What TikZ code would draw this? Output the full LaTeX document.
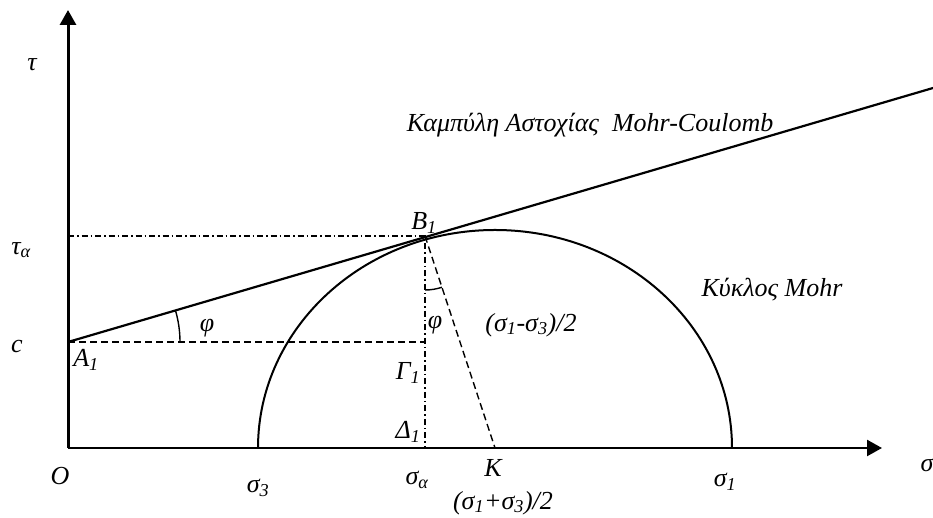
\documentclass[tikz,border=0pt]{standalone}
\usepackage{fontspec}
\setmainfont{Liberation Serif}
\usetikzlibrary{arrows.meta}
\newcommand{\ssub}[2]{#1\textsubscript{#2}}
\tikzset{
  axis/.style={line width=3pt, -{Triangle[length=15pt,width=16pt]}},
  dashdot/.style={line width=1.2pt, dash pattern=on 6pt off 3pt on 1.5pt off 3pt},
  dashline/.style={line width=1.4pt, dash pattern=on 7pt off 4pt},
  lbl/.style={font=\fontsize{26}{30}\selectfont\itshape, inner sep=0pt}
}
\begin{document}
\begin{tikzpicture}[x=1pt, y=1pt]
    \useasboundingbox (0,0) rectangle (933,518);
    \coordinate (O) at (68,70);
    \coordinate (ytop) at (68,508);
    \coordinate (xend) at (882,70);
    \coordinate (A1) at (68,176);
    \coordinate (B1) at (425,282);
    \coordinate (G1) at (425,176);
    \coordinate (D1) at (425,70);
    \coordinate (K) at (495,70);
    \coordinate (lineend) at (933,430);
    \coordinate (ta) at (68,282);

    % axes
    \draw[axis] (O) -- (ytop);
    \draw[axis, line width=2.4pt] (O) -- (xend);

    % Mohr circle and failure line
    \draw[line width=2pt] (258,70) arc[start angle=180, end angle=0, x radius=237, y radius=218];
    \draw[line width=2.2pt] (A1) -- (lineend);

    \draw[dashdot] (ta) -- (B1) -- (D1);
    \draw[dashline] (A1) -- (G1);
    \draw[dashline] (B1) -- (K);

    % angles
    \draw[line width=1.4pt] ([shift={(0:112)}]A1) arc[start angle=0, end angle=16.4, radius=112];
    \draw[line width=1.4pt] ([shift={(270:54)}]B1) arc[start angle=270, end angle=288.3, radius=54];

    \node[lbl] (tau) at (32,453) {τ};
    \node[lbl] (taua) at (21,268) {\ssub{τ}{α}};
    \node[lbl] (cc) at (17,171) {c};
    \node[lbl] (a1) at (86,158) {\ssub{A}{1}};
    \node[lbl] (phi1) at (207,190) {φ};
    \node[lbl] (oo) at (60,42) {O};
    \node[lbl] (s3) at (258,30) {\ssub{σ}{3}};
    \node[lbl] (sa) at (417,38) {\ssub{σ}{α}};
    \node[lbl] (kk) at (493,50) {K};
    \node[lbl] (mean) at (503,15) {(\ssub{σ}{1}+\ssub{σ}{3})/2};
    \node[lbl] (g1) at (408,145) {\ssub{Γ}{1}};
    \node[lbl] (d1) at (408,86) {\ssub{Δ}{1}};
    \node[lbl] (phi2) at (435,193) {φ};
    \node[lbl] (rad) at (531,193) {(\ssub{σ}{1}-\ssub{σ}{3})/2};
    \node[lbl] (b1) at (424,295) {\ssub{B}{1}};
    \node[lbl] (s1) at (725,36) {\ssub{σ}{1}};
    \node[lbl] (ss) at (927,53) {σ};
    \node[lbl] (envelope) at (590,393) {Καμπύλη Αστοχίας\ \ Mohr-Coulomb};
    \node[lbl] (circle) at (772,228) {Κύκλος Mohr};
\end{tikzpicture}
\end{document}
